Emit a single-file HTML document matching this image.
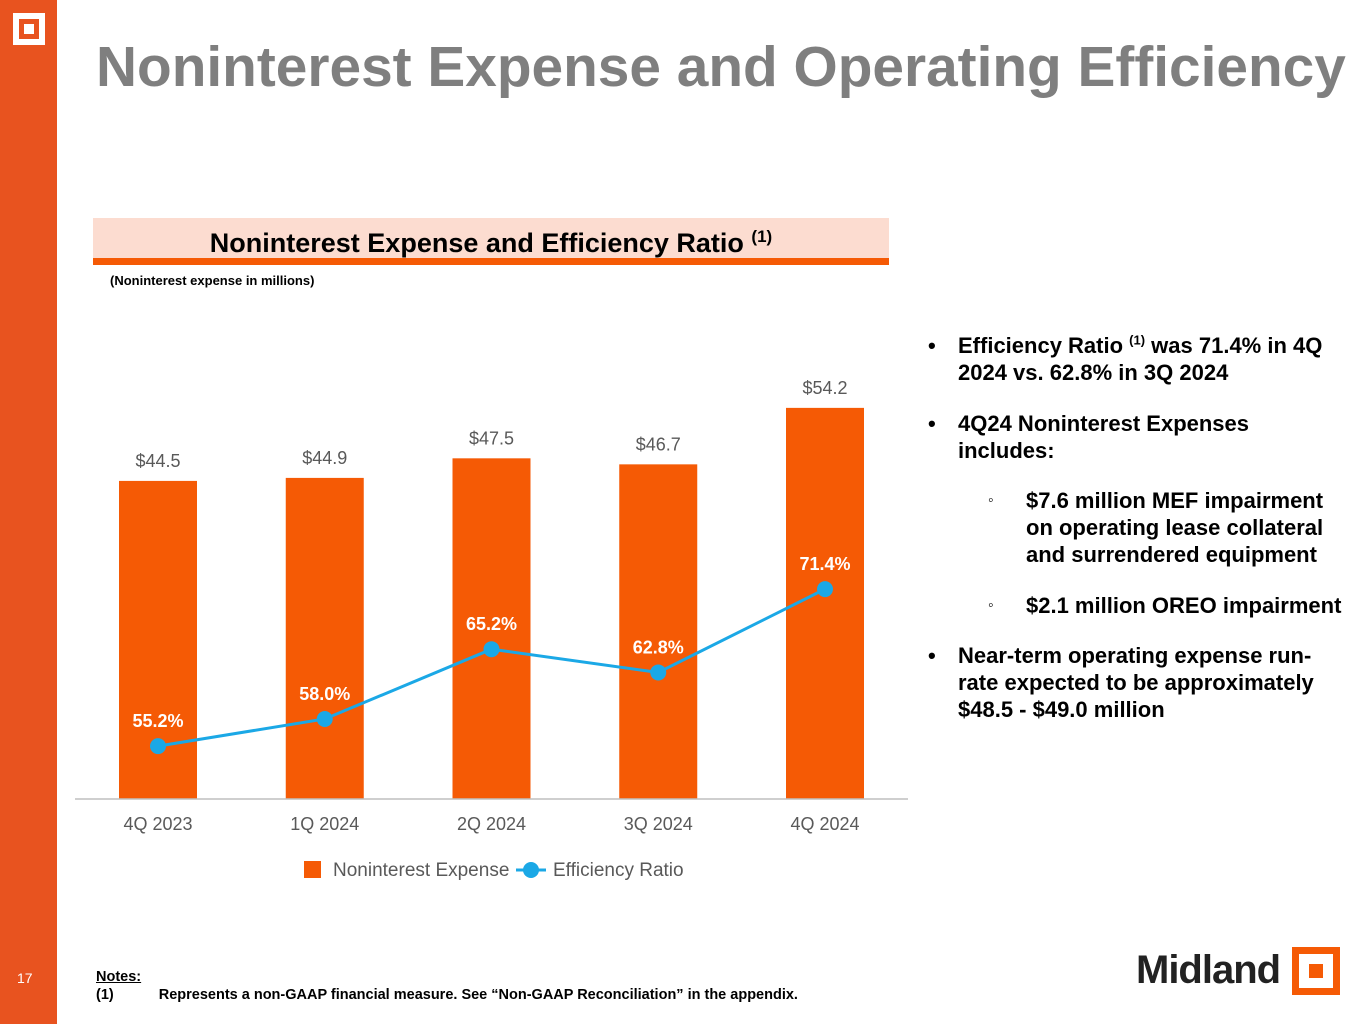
<!DOCTYPE html>
<html><head><meta charset="utf-8">
<style>
body{margin:0;width:1365px;height:1024px;overflow:hidden;background:#fff;font-family:"Liberation Sans",Arial,sans-serif;position:relative}
.abs{position:absolute}
</style></head>
<body>
<div class="abs" style="left:0;top:0;width:57px;height:1024px;background:#E8531F"></div>
<div class="abs" style="left:13px;top:13px;width:32px;height:32px;background:#fff"><div style="position:absolute;left:6px;top:6px;width:20px;height:20px;background:#E8531F"><div style="position:absolute;left:5px;top:5px;width:10px;height:10px;background:#fff"></div></div></div>
<div class="abs" style="left:17px;top:970px;color:#fff;font-size:14px">17</div>
<div class="abs" style="left:96px;top:35px;font-size:56.8px;font-weight:bold;color:#7f7f7f;white-space:nowrap">Noninterest Expense and Operating Efficiency</div>
<div class="abs" style="left:93px;top:218px;width:796px;height:41px;background:#FCDCD0;text-align:center;font-size:27px;font-weight:bold;line-height:50px;color:#000;overflow:hidden">Noninterest Expense and Efficiency Ratio <sup style="font-size:17px;line-height:0">(1)</sup></div>
<div class="abs" style="left:93px;top:258px;width:796px;height:7px;background:#F55A05"></div>
<div class="abs" style="left:110px;top:273px;font-size:13px;font-weight:bold">(Noninterest expense in millions)</div>
<svg class="abs" style="left:0;top:0" width="1365" height="1024">
<g id="g"></g>
</svg>
<div class="abs" style="left:928px;top:332px;width:412px;font-size:22px;font-weight:bold;line-height:27px;color:#000">
<div style="position:relative;padding-left:30px;margin-bottom:24px"><span style="position:absolute;left:0">•</span>Efficiency Ratio <sup style="font-size:13px;line-height:0">(1)</sup> was 71.4% in 4Q 2024 vs. 62.8% in 3Q 2024</div>
<div style="position:relative;padding-left:30px;margin-bottom:23px"><span style="position:absolute;left:0">•</span>4Q24 Noninterest Expenses includes:</div>
<div style="position:relative;padding-left:98px;margin-bottom:24px"><span style="position:absolute;left:60px;font-size:16px">◦</span>$7.6 million MEF impairment on operating lease collateral and surrendered equipment</div>
<div style="position:relative;padding-left:98px;margin-bottom:23px;white-space:nowrap"><span style="position:absolute;left:60px;font-size:16px">◦</span>$2.1 million OREO impairment</div>
<div style="position:relative;padding-left:30px"><span style="position:absolute;left:0">•</span>Near-term operating expense run-rate expected to be approximately $48.5 - $49.0 million</div>
</div>
<div class="abs" style="left:96px;top:968px;font-size:14.5px;font-weight:bold;line-height:18px;white-space:nowrap"><u>Notes:</u><br>(1)<span style="display:inline-block;width:45px"></span>Represents a non-GAAP financial measure. See “Non-GAAP Reconciliation” in the appendix.</div>
<div class="abs" style="left:1136px;top:948px;font-size:40px;font-weight:bold;color:#222;letter-spacing:-1px">Midland</div>
<div class="abs" style="left:1292px;top:947px;width:48px;height:48px;background:#F55A05"><div style="position:absolute;left:7px;top:7px;width:34px;height:34px;background:#fff"><div style="position:absolute;left:10px;top:10px;width:14px;height:14px;background:#F55A05"></div></div></div>
<script>
const categories=["4Q 2023","1Q 2024","2Q 2024","3Q 2024","4Q 2024"];
const expense=[44.5,44.9,47.5,46.7,54.2];
const efficiency=[55.2,58.0,65.2,62.8,71.4];
const expenseLabels=["$44.5","$44.9","$47.5","$46.7","$54.2"];
const efficiencyLabels=["55.2%","58.0%","65.2%","62.8%","71.4%"];
const NS="http://www.w3.org/2000/svg";
const g=document.getElementById('g');
function x(i){return 158+i*166.75;}
function yBar(v){return 816-v*7.53;}
function yLine(v){return 1281-v*9.69;}
function mk(t,a,txt){const e=document.createElementNS(NS,t);for(const k in a)e.setAttribute(k,a[k]);if(txt!==undefined)e.textContent=txt;g.appendChild(e);return e;}
const F='"Liberation Sans",Arial,sans-serif';
expense.forEach((v,i)=>{
 const r=mk('rect',{x:x(i)-39,y:yBar(v),width:78,height:799-yBar(v),fill:'#F55A05'});
 
 
 const t=mk('text',{x:x(i),y:yBar(v)-14,'text-anchor':'middle','font-size':18,fill:'#595959','font-family':F},expenseLabels[i]);
 
 
 const c=mk('text',{x:x(i),y:830,'text-anchor':'middle','font-size':18,fill:'#595959','font-family':F},categories[i]);
 
 
});
const ax=mk('line',{x1:75,x2:908,y1:799,y2:799,stroke:'#bfbfbf','stroke-width':1.5});


const pl=mk('polyline',{points:efficiency.map((v,i)=>x(i)+','+yLine(v)).join(' '),fill:'none',stroke:'#1BA8E6','stroke-width':3});


efficiency.forEach((v,i)=>{
 const c=mk('circle',{cx:x(i),cy:yLine(v),r:8,fill:'#1BA8E6'});
 
 
 const t=mk('text',{x:x(i),y:yLine(v)-19,'text-anchor':'middle','font-size':18,'font-weight':'bold',fill:'#fff','font-family':F},efficiencyLabels[i]);
 
 
});
const l1=mk('rect',{x:304,y:861,width:17,height:17,fill:'#F55A05'});


const lt1=mk('text',{x:333,y:876,'font-size':19,fill:'#595959','font-family':F},'Noninterest Expense');


const l2=mk('line',{x1:516,x2:546,y1:870,y2:870,stroke:'#1BA8E6','stroke-width':3});


const l3=mk('circle',{cx:531,cy:870,r:8,fill:'#1BA8E6'});


const lt2=mk('text',{x:553,y:876,'font-size':19,fill:'#595959','font-family':F},'Efficiency Ratio');


</script>
</body></html>
